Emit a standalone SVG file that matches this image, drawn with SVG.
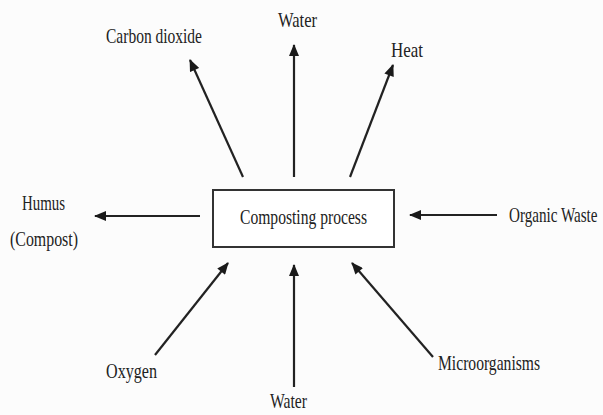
<svg xmlns="http://www.w3.org/2000/svg" width="603" height="415" viewBox="0 0 603 415">
  <defs>
    <marker id="ah" viewBox="0 0 12 10" refX="11" refY="5" markerWidth="13" markerHeight="10" markerUnits="userSpaceOnUse" orient="auto">
      <path d="M0,0 L12,5 L0,10 Z" fill="#1a1a1a"/>
    </marker>
  </defs>
  <style>
    .lbl { font-family: "Liberation Serif", "Times New Roman", serif; font-size: 21px; fill: #222; }
    .arr { stroke: #222; stroke-width: 2.2; fill: none; marker-end: url(#ah); }
    .box { fill: #fff; stroke: #333; stroke-width: 2; }
  </style>
  <rect x="0" y="0" width="603" height="415" fill="#fcfcfc"/>

  <g id="connectors">
    <line class="arr" x1="243" y1="177" x2="190" y2="60"/>
    <line class="arr" x1="294" y1="177" x2="294" y2="45"/>
    <line class="arr" x1="350" y1="177" x2="393" y2="65"/>
    <line class="arr" x1="200" y1="216" x2="95" y2="216"/>
    <line class="arr" x1="497" y1="215" x2="410" y2="215"/>
    <line class="arr" x1="155" y1="355" x2="228" y2="263"/>
    <line class="arr" x1="294" y1="387" x2="294" y2="265"/>
    <line class="arr" x1="433" y1="357" x2="352" y2="263"/>
  </g>

  <g id="composting">
    <rect class="box" x="213" y="190" width="181" height="57"/>
    <text class="lbl" x="240" y="224" textLength="127" lengthAdjust="spacingAndGlyphs">Composting process</text>
  </g>
  <g id="carbon-dioxide">
    <text class="lbl" x="106" y="43" textLength="96" lengthAdjust="spacingAndGlyphs">Carbon dioxide</text>
  </g>
  <g id="water-out">
    <text class="lbl" x="278" y="27" textLength="39" lengthAdjust="spacingAndGlyphs">Water</text>
  </g>
  <g id="heat">
    <text class="lbl" x="391" y="57" textLength="32" lengthAdjust="spacingAndGlyphs">Heat</text>
  </g>
  <g id="humus">
    <text class="lbl" x="22" y="210" textLength="43" lengthAdjust="spacingAndGlyphs">Humus</text>
    <text class="lbl" x="10" y="246" textLength="68" lengthAdjust="spacingAndGlyphs">(Compost)</text>
  </g>
  <g id="organic-waste">
    <text class="lbl" transform="translate(509,222) scale(0.72,1)" x="0" y="0">Organic Waste</text>
  </g>
  <g id="oxygen">
    <text class="lbl" x="106" y="378" textLength="51" lengthAdjust="spacingAndGlyphs">Oxygen</text>
  </g>
  <g id="water-in">
    <text class="lbl" x="270" y="408" textLength="37" lengthAdjust="spacingAndGlyphs">Water</text>
  </g>
  <g id="microorganisms">
    <text class="lbl" x="438" y="370" textLength="102" lengthAdjust="spacingAndGlyphs">Microorganisms</text>
  </g>
</svg>
